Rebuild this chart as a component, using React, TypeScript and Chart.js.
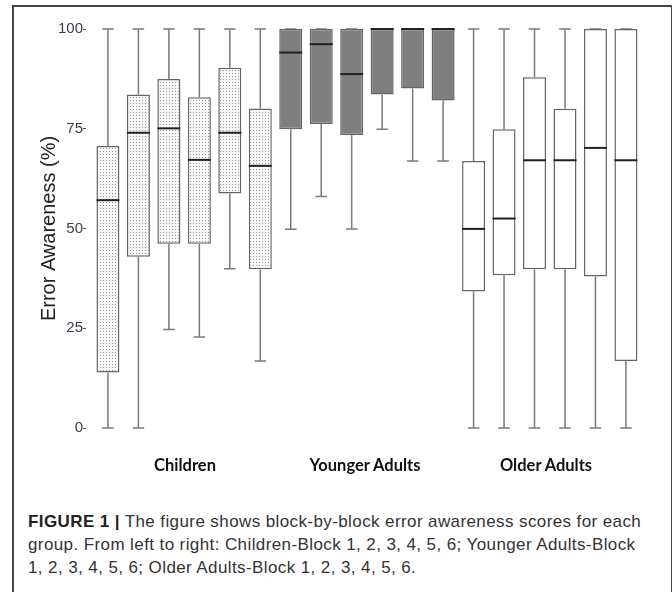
import React, { useEffect, useRef } from "react";
import { Chart, registerables } from "chart.js";

Chart.register(...registerables);

const categories = [
  "Children-Block 1", "Children-Block 2", "Children-Block 3", "Children-Block 4", "Children-Block 5", "Children-Block 6",
  "Younger Adults-Block 1", "Younger Adults-Block 2", "Younger Adults-Block 3", "Younger Adults-Block 4", "Younger Adults-Block 5", "Younger Adults-Block 6",
  "Older Adults-Block 1", "Older Adults-Block 2", "Older Adults-Block 3", "Older Adults-Block 4", "Older Adults-Block 5", "Older Adults-Block 6",
];
const groupOf = [0, 0, 0, 0, 0, 0, 1, 1, 1, 1, 1, 1, 2, 2, 2, 2, 2, 2];
const whiskerMin = [0, 0, 24.7, 22.8, 39.9, 16.8, 49.8, 58.0, 49.9, 74.9, 66.9, 66.9, 0, 0, 0, 0, 0, 0];
const q1 = [13.9, 42.9, 46.2, 46.2, 58.8, 39.8, 74.9, 76.2, 73.4, 83.6, 85.1, 82.1, 34.2, 38.3, 39.8, 39.8, 38.0, 16.8];
const median = [57.1, 74.0, 75.1, 67.2, 74.0, 65.7, 94.1, 96.2, 88.7, 100, 100, 100, 49.9, 52.5, 67.1, 67.1, 70.2, 67.1];
const q3 = [70.7, 83.6, 87.5, 82.9, 90.3, 80.1, 100, 100, 100, 100, 100, 100, 66.9, 74.9, 87.9, 80.0, 100, 100];
const whiskerMax = [100, 100, 100, 100, 100, 100, 100, 100, 100, 100, 100, 100, 100, 100, 100, 100, 100, 100];
const yTicks = [0, 25, 50, 75, 100];
const groupLabels = ["Children", "Younger Adults", "Older Adults"];

function makeDotPattern(): CanvasPattern | string {
  const c = document.createElement("canvas");
  c.width = 3;
  c.height = 3;
  const g = c.getContext("2d");
  if (!g) return "#eee";
  g.fillStyle = "#f7f7f7";
  g.fillRect(0, 0, 3, 3);
  g.fillStyle = "#9a9a9a";
  g.fillRect(1, 1, 1, 1);
  const p = g.createPattern(c, "repeat");
  return p || "#eee";
}

const boxPlugin = {
  id: "boxWhiskers",
  beforeDatasetsDraw(chart: any) {
    const meta = chart.getDatasetMeta(0);
    const y = chart.scales.y;
    const ctx = chart.ctx;
    ctx.save();
    ctx.strokeStyle = "#7a7a7a";
    ctx.lineWidth = 1.5;
    meta.data.forEach((bar: any, i: number) => {
      const x = bar.x;
      const capHalf = bar.width * 0.25;
      const pMin = y.getPixelForValue(whiskerMin[i]);
      const pMax = y.getPixelForValue(whiskerMax[i]);
      const pQ1 = y.getPixelForValue(q1[i]);
      const pQ3 = y.getPixelForValue(q3[i]);
      ctx.beginPath();
      ctx.moveTo(x, pMin);
      ctx.lineTo(x, pQ1);
      ctx.moveTo(x, pQ3);
      ctx.lineTo(x, pMax);
      ctx.moveTo(x - capHalf, pMin);
      ctx.lineTo(x + capHalf, pMin);
      ctx.moveTo(x - capHalf, pMax);
      ctx.lineTo(x + capHalf, pMax);
      ctx.stroke();
    });
    ctx.restore();
  },
  afterDatasetsDraw(chart: any) {
    const meta = chart.getDatasetMeta(0);
    const y = chart.scales.y;
    const ctx = chart.ctx;
    ctx.save();
    ctx.strokeStyle = "#222";
    ctx.lineWidth = 2;
    meta.data.forEach((bar: any, i: number) => {
      const pm = y.getPixelForValue(median[i]);
      ctx.beginPath();
      ctx.moveTo(bar.x - bar.width / 2, pm);
      ctx.lineTo(bar.x + bar.width / 2, pm);
      ctx.stroke();
    });
    ctx.restore();
  },
};

export default function App() {
  const ref = useRef<HTMLCanvasElement>(null);

  useEffect(() => {
    if (!ref.current) return;
    const dots = makeDotPattern();
    const fills = groupOf.map((g) => (g === 0 ? dots : g === 1 ? "#7f7f7f" : "#ffffff"));
    const chart = new Chart(ref.current, {
      type: "bar",
      data: {
        labels: categories,
        datasets: [
          {
            label: "IQR",
            data: categories.map((_, i) => ({ x: i, y: [q1[i], q3[i]] })) as any,
            backgroundColor: fills as any,
            borderColor: "#666",
            borderWidth: 1.5,
            borderSkipped: false,
            categoryPercentage: 1,
            barPercentage: 0.755,
          },
        ],
      },
      options: {
        responsive: false,
        animation: false,
        events: [],
        layout: { padding: { top: 29, bottom: 42, left: 0, right: 22 } },
        plugins: { legend: { display: false }, tooltip: { enabled: false }, title: { display: false } },
        scales: {
          x: {
            type: "linear",
            display: false,
            offset: false,
            min: -0.72,
            max: 17.79,
          },
          y: {
            min: 0,
            max: 100,
            afterFit(scale: any) {
              scale.width = 86;
            },
            afterBuildTicks(scale: any) {
              scale.ticks = yTicks.map((v) => ({ value: v }));
            },
            border: { display: false },
            grid: { display: true, drawOnChartArea: false, drawTicks: true, tickLength: 3, color: "#555", lineWidth: 1 },
            ticks: {
              padding: 0,
              color: "#3a3f4a",
              font: { family: "Liberation Sans, Arial, sans-serif", size: 15 },
            },
            title: {
              display: true,
              text: "Error Awareness (%)",
              color: "#222",
              font: { family: "Liberation Sans, Arial, sans-serif", size: 20 },
              padding: { top: 37.5, bottom: 0 },
            },
          },
        },
      },
      plugins: [boxPlugin],
    });
    return () => chart.destroy();
  }, []);

  const groupCenters = [185, 365, 546];

  return (
    <div style={{ position: "absolute", left: 0, top: 0, width: 672, height: 592, overflow: "hidden", background: "#fff" }}>
      <div
        style={{
          position: "absolute",
          left: 12,
          top: 5,
          width: 657,
          height: 600,
          borderLeft: "2px solid #444",
          borderTop: "2px solid #444",
          borderRight: "2px solid #444",
        }}
      />
      <canvas ref={ref} width={672} height={470} style={{ position: "absolute", left: 0, top: 0, width: 672, height: 470 }} />
      {groupLabels.map((t, i) => (
        <div
          key={t}
          style={{
            position: "absolute",
            left: groupCenters[i] - 100,
            width: 200,
            top: 455,
            textAlign: "center",
            fontFamily: "Lato, sans-serif",
            fontWeight: 700,
            fontSize: 16.5,
            lineHeight: "20px",
            color: "#111",
          }}
        >
          {t}
        </div>
      ))}
      <div
        style={{
          position: "absolute",
          left: 28,
          top: 510,
          fontFamily: "Liberation Sans, Arial, sans-serif",
          fontSize: 17,
          letterSpacing: "0.4px",
          lineHeight: "23px",
          color: "#333",
          whiteSpace: "nowrap",
        }}
      >
        <div>
          <b style={{ color: "#222" }}>FIGURE 1 |</b> The figure shows block-by-block error awareness scores for each
        </div>
        <div>group. From left to right: Children-Block 1, 2, 3, 4, 5, 6; Younger Adults-Block</div>
        <div>1, 2, 3, 4, 5, 6; Older Adults-Block 1, 2, 3, 4, 5, 6.</div>
      </div>
    </div>
  );
}
